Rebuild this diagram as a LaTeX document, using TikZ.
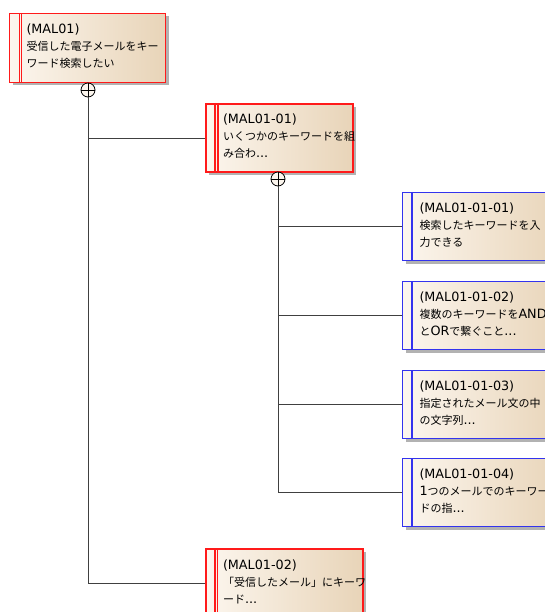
\documentclass[tikz,border=0pt]{standalone}
\usepackage{fontspec}
\setmainfont{Noto Sans CJK JP}
\newfontfamily\latf{DejaVu Sans}[Scale=1.16]
\newcommand\la[1]{{\latf #1}}
\usetikzlibrary{shadows,calc}
\definecolor{gl}{HTML}{FCF6EE}
\definecolor{gr}{HTML}{E8D4B8}
\definecolor{redb}{HTML}{FF1A1A}
\definecolor{blueb}{HTML}{3333EE}
\definecolor{linec}{HTML}{404040}
\tikzset{
  req/.style={rectangle, anchor=north west, left color=gl, right color=gr,
    general shadow={fill=black!30, shadow xshift=3pt, shadow yshift=-3pt},
    align=left, inner xsep=17pt, inner ysep=0pt,
    font=\fontsize{11}{17}\selectfont},
  redbox/.style={req, draw=redb},
  bluebox/.style={req, draw=blueb, line width=1pt},
  joint/.style={circle, draw=black, fill=gl, minimum size=14pt, inner sep=0pt, line width=0.8pt,
    path picture={\draw[line width=0.8pt] (path picture bounding box.north) -- (path picture bounding box.south)
      (path picture bounding box.west) -- (path picture bounding box.east);}},
  conn/.style={draw=linec, line width=0.8pt},
}
\begin{document}
\begin{tikzpicture}[x=1pt,y=-1pt]
\useasboundingbox (0,0) rectangle (545,612);
\clip (0,0) rectangle (545,612);
% red boxes
\node[redbox, line width=1pt, minimum width=156pt, minimum height=69pt, text width=122pt] (b1) at (9,13)
  {\la{(MAL01)}\\受信した電子メールをキー\\ワード検索したい\vphantom{\la{(}}\vspace{3pt}};
\node[redbox, line width=2pt, minimum width=147pt, minimum height=68pt, text width=113pt] (b2) at (205,103)
  {\la{(MAL01-01)}\\いくつかのキーワードを組\\み合わ\la{...}\vspace{3pt}};
\node[redbox, line width=2pt, minimum width=157pt, minimum height=69pt, text width=123pt] (b7) at (205,548)
  {\la{(MAL01-02)}\\「受信したメール」にキーワ\\ード\la{...}\vspace{3pt}};
% blue boxes
\node[bluebox, minimum width=160pt, minimum height=68pt, text width=126pt] (b3) at (402,192)
  {\la{(MAL01-01-01)}\\検索したキーワードを入\\力できる\vspace{3pt}};
\node[bluebox, minimum width=160pt, minimum height=68pt, text width=126pt] (b4) at (402,281)
  {\la{(MAL01-01-02)}\\複数のキーワードを\la{AND}\\と\la{OR}で繋ぐこと\la{...}\vspace{3pt}};
\node[bluebox, minimum width=160pt, minimum height=68pt, text width=126pt] (b5) at (402,370)
  {\la{(MAL01-01-03)}\\指定されたメール文の中\\の文字列\la{...}\vspace{3pt}};
\node[bluebox, minimum width=160pt, minimum height=68pt, text width=126pt] (b6) at (402,458)
  {\la{(MAL01-01-04)}\\\la{1}つのメールでのキーワー\\ドの指\la{...}\vspace{3pt}};
% stripes
\draw[redb, line width=0.8pt] ([xshift=10pt]b1.north west) -- ([xshift=10pt]b1.south west)
  ([xshift=12pt]b1.north west) -- ([xshift=12pt]b1.south west);
\draw[redb, line width=1.6pt] ([xshift=10pt]b2.north west) -- ([xshift=10pt]b2.south west)
  ([xshift=13pt]b2.north west) -- ([xshift=13pt]b2.south west);
\draw[redb, line width=1.6pt] ([xshift=10pt]b7.north west) -- ([xshift=10pt]b7.south west)
  ([xshift=12.5pt]b7.north west) -- ([xshift=12.5pt]b7.south west);
\foreach \b in {b3,b4,b5,b6}{
  \draw[blueb, line width=2.5pt] ([xshift=10pt]\b.north west) -- ([xshift=10pt]\b.south west);
}
% joints
\node[joint] (c1) at (88,90) {};
\node[joint] (c2) at (278,179) {};
% connectors
\draw[conn] (c1.south) |- (b2.west);
\draw[conn] (c1.south) |- (b7.west);
\draw[conn] (c2.south) |- (b3.west);
\draw[conn] (c2.south) |- (b4.west);
\draw[conn] (c2.south) |- (b5.west);
\draw[conn] (c2.south) |- (b6.west);
\end{tikzpicture}
\end{document}
